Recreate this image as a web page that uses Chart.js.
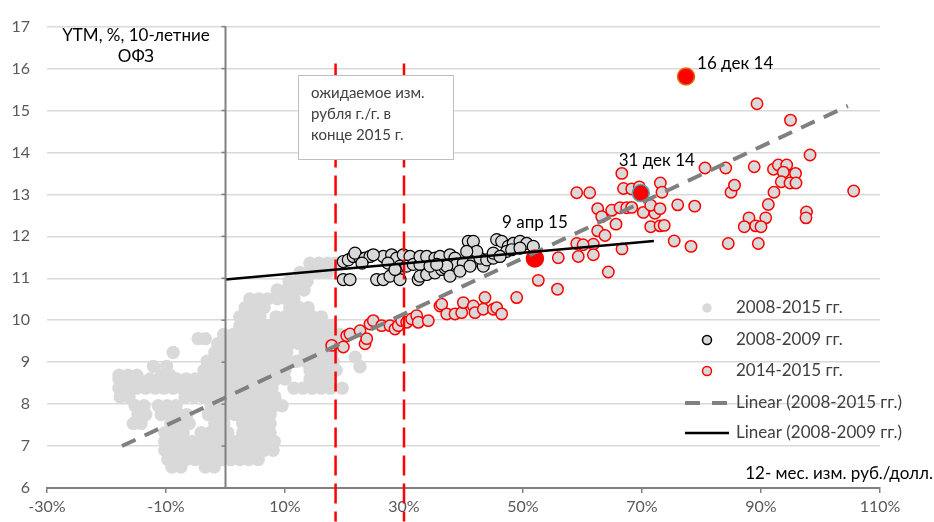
<!DOCTYPE html>
<html><head><meta charset="utf-8">
<script src="https://cdn.jsdelivr.net/npm/chart.js@4/dist/chart.umd.min.js"></script>
<style>html,body{margin:0;padding:0;background:#fff}#wrap{width:934px;height:522px;position:relative}</style>
</head><body><div id="wrap"><canvas id="c" width="934" height="522"></canvas></div>
<script>
// ---- Data ----
const xTicks = [-30, -10, 10, 30, 50, 70, 90, 110];
const yTicks = [6, 7, 8, 9, 10, 11, 12, 13, 14, 15, 16, 17];

// 2008-2015 (all observations) [x %, y %]
const allPts = [
[14.2,11.36],[15.7,11.36],[17.2,11.36],[18.4,11.36],
[12.5,11.14],[14.0,11.14],[15.5,11.14],[17.1,11.14],
[10.7,10.93],[12.2,10.93],[13.7,10.93],
[8.7,10.72],[10.2,10.72],[11.7,10.72],[13.2,10.72],
[4.1,10.51],[5.6,10.51],[7.1,10.51],[8.7,10.51],[10.2,10.51],[11.5,10.51],
[3.3,10.30],[5.0,10.30],[6.5,10.30],[10.8,10.30],[12.4,10.30],[13.9,10.30],
[2.4,10.08],[4.1,10.08],[5.8,10.08],[8.5,10.08],[10.0,10.08],[11.5,10.08],[13.0,10.08],[14.6,10.08],[16.1,10.08],
[2.4,9.87],[4.0,9.87],[5.5,9.87],[7.0,9.87],[8.5,9.87],[10.0,9.87],[11.5,9.87],[13.0,9.87],[14.6,9.87],[16.1,9.87],[17.6,9.87],
[-0.3,9.66],[1.3,9.66],[2.8,9.66],[4.3,9.66],[5.8,9.66],[7.3,9.66],[8.8,9.66],[10.3,9.66],[11.8,9.66],[13.4,9.66],[14.9,9.66],[16.4,9.66],[17.9,9.66],[19.2,9.66],
[-4.6,9.56],[-3.4,9.56],
[-1.3,9.44],[0.3,9.44],[1.8,9.44],[3.3,9.44],[4.8,9.44],[6.3,9.44],[7.8,9.44],[9.3,9.44],[10.8,9.44],[12.4,9.44],[13.9,9.44],[15.4,9.44],[16.9,9.44],[18.4,9.44],
[-8.8,9.23],[-1.8,9.23],[-0.3,9.23],[1.3,9.23],[2.8,9.23],[4.3,9.23],[5.8,9.23],[7.3,9.23],[8.8,9.23],[10.3,9.23],[13.4,9.23],[14.9,9.23],[16.4,9.23],[17.9,9.23],
[21.8,9.12],[22.6,8.89],
[-3.1,9.02],[-1.6,9.02],[0.0,9.02],[1.4,9.02],[2.9,9.02],[4.5,9.02],[6.0,9.02],[7.5,9.02],[9.0,9.02],[10.5,9.02],[12.0,9.02],[13.5,9.02],[15.0,9.02],[16.6,9.02],[18.1,9.02],
[-12.1,8.90],[-9.9,8.90],
[-3.6,8.81],[-2.1,8.81],[-0.6,8.81],[0.9,8.81],[2.4,8.81],[3.9,8.81],[5.5,8.81],[7.0,8.81],[8.5,8.81],[10.0,8.81],[14.2,8.81],[15.7,8.81],[17.2,8.81],[18.6,8.81],
[-17.9,8.69],[-16.4,8.69],[-14.9,8.69],[-10.7,8.69],[-9.3,8.69],
[-17.9,8.60],[-16.4,8.60],[-14.7,8.60],[-12.7,8.60],[-11.2,8.60],[-9.7,8.60],[-8.2,8.60],[-6.6,8.60],[-5.1,8.60],[-3.6,8.60],[-2.1,8.60],[-0.6,8.60],[0.9,8.60],[2.4,8.60],[3.9,8.60],[5.5,8.60],[7.0,8.60],[8.5,8.60],[10.0,8.60],[14.2,8.60],[15.7,8.60],[17.2,8.60],
[-17.9,8.38],[-16.4,8.38],[-14.9,8.38],[-13.4,8.38],[-11.8,8.38],[-10.3,8.38],[-8.8,8.38],[-7.3,8.38],[-5.8,8.38],[-4.3,8.38],[-2.8,8.38],[-1.3,8.38],[0.3,8.38],[1.8,8.38],[3.3,8.38],[4.8,8.38],[6.3,8.38],[7.8,8.38],[11.5,8.38],[13.0,8.38],[14.6,8.38],[16.1,8.38],[17.6,8.38],[19.6,8.38],
[-17.7,8.17],[-16.2,8.17],[-6.8,8.17],[-5.3,8.17],[-3.8,8.17],[-2.3,8.17],[-0.8,8.17],[0.8,8.17],[2.3,8.17],[3.8,8.17],[5.3,8.17],[6.8,8.17],[8.3,8.17],
[-15.2,7.96],[-13.7,7.96],[-11.3,7.96],[-9.8,7.96],[-8.3,7.96],[-2.4,7.96],[-0.9,7.96],[0.6,7.96],[2.1,7.96],[3.6,7.96],[5.1,7.96],[6.6,7.96],[8.2,7.96],[9.5,7.96],
[-14.7,7.75],[-13.4,7.75],[-10.8,7.75],[-9.3,7.75],[-7.8,7.75],[-6.5,7.75],[-2.9,7.75],[-1.4,7.75],[0.1,7.75],[1.6,7.75],[3.1,7.75],[4.6,7.75],[6.2,7.75],[7.5,7.75],
[-15.5,7.54],[-14.2,7.54],[-9.2,7.54],[-7.6,7.54],[-6.1,7.54],[-1.8,7.54],[-0.3,7.54],[2.9,7.54],[4.5,7.54],[6.0,7.54],[7.5,7.54],
[-10.2,7.32],[-8.7,7.32],[-7.1,7.32],[-4.1,7.32],[-2.6,7.32],[-1.1,7.32],[0.4,7.32],[2.9,7.32],[4.5,7.32],[6.0,7.32],[7.5,7.32],
[-10.2,7.11],[-8.7,7.11],[-7.1,7.11],[-5.6,7.11],[-4.1,7.11],[-2.6,7.11],[-1.1,7.11],[0.4,7.11],[1.9,7.11],[3.4,7.11],[5.0,7.11],[6.5,7.11],[8.2,7.11],
[-10.2,6.90],[-8.7,6.90],[-7.1,6.90],[-5.6,6.90],[-4.1,6.90],[-2.6,6.90],[-1.1,6.90],[0.4,6.90],[1.9,6.90],[3.4,6.90],[5.0,6.90],[6.5,6.90],[8.0,6.90],
[-9.7,6.68],[-8.2,6.68],[-6.6,6.68],[-5.1,6.68],[-3.6,6.68],[-2.1,6.68],[-0.6,6.68],[0.9,6.68],[2.4,6.68],[3.9,6.68],[5.5,6.68],
[-9.0,6.50],[-7.5,6.50],[-3.4,6.50],[-1.9,6.50]
];

// 2008-2009
const y0809X = [19.80,20.92,19.80,20.64,21.48,22.61,21.76,25.41,26.52,27.65,29.33,26.52,27.93,28.77,29.88,31.01,29.33,30.45,31.56,32.69,32.40,32.69,33.82,35.21,36.34,36.89,32.69,33.82,35.21,36.05,37.73,38.57,38.86,39.97,41.65,43.33,42.77,43.90,45.01,40.81,41.65,42.22,40.54,45.58,46.42,47.53,48.37,49.50,50.62,51.73,47.26,48.10,49.50,45.01,46.13,37.18,34.37,35.50,23.45,24.29,24.84,22.94,27.31,37.73,39.40,41.10,28.49];
const y0809Y = [10.97,10.97,11.40,11.44,11.52,11.48,11.60,10.97,10.97,11.05,10.97,11.52,11.56,11.48,11.56,11.52,11.29,11.29,11.33,11.33,10.97,11.05,11.09,11.13,11.21,11.25,11.52,11.52,11.48,11.52,11.56,11.48,11.33,11.36,11.40,11.29,11.48,11.44,11.48,11.88,11.88,11.64,11.64,11.92,11.88,11.76,11.83,11.88,11.83,11.76,11.64,11.68,11.72,11.60,11.52,11.29,11.29,11.33,11.48,11.52,11.56,11.36,11.36,11.05,11.17,11.29,11.21];

// 2014-2015
const y1415X = [17.85,19.80,20.37,20.92,22.61,23.45,23.73,24.29,24.84,26.25,27.65,28.49,29.04,29.61,30.45,31.29,32.13,32.40,34.08,36.05,36.34,37.18,38.57,39.70,39.97,41.65,41.93,43.33,43.61,45.01,45.58,46.42,48.94,52.57,55.80,55.93,64.34,59.03,61.82,59.29,61.82,62.55,63.78,66.64,75.41,78.24,84.50,89.55,59.03,61.21,66.61,66.89,68.27,69.55,73.08,73.36,62.55,63.23,64.91,66.30,65.63,67.43,68.27,70.22,72.18,71.46,73.03,71.46,73.03,73.73,76.00,78.86,80.59,84.07,88.86,92.10,92.91,94.32,93.75,95.80,93.41,94.87,95.88,98.24,94.96,89.33,105.58,84.96,85.55,92.18,91.23,87.98,90.79,87.19,89.11,90.00,97.65,97.56,60.1];
const y1415Y = [9.40,9.36,9.63,9.67,9.75,9.44,9.56,9.91,9.99,9.87,9.87,9.79,9.87,9.99,9.95,10.03,10.11,9.95,9.99,10.34,10.38,10.15,10.15,10.18,10.42,10.34,10.18,10.26,10.54,10.26,10.30,10.15,10.54,10.95,10.74,11.49,11.15,11.83,11.81,11.52,11.56,12.13,12.02,11.70,11.89,11.76,11.83,11.83,13.04,13.04,13.50,13.14,13.13,13.18,13.27,13.05,12.66,12.47,12.62,12.68,12.29,12.68,12.69,12.57,12.55,12.74,12.66,12.23,12.25,12.26,12.75,12.72,13.63,13.63,13.66,13.60,13.70,13.70,13.53,13.50,13.30,13.27,13.27,13.94,14.77,15.16,13.08,13.05,13.22,13.05,12.76,12.44,12.44,12.23,12.25,12.23,12.58,12.44,11.80];

// highlighted dates
const specialX = [77.4, 69.8, 52.0];
const specialY = [15.81, 13.03, 11.47];
const specialLabels = ['16 дек 14', '31 дек 14', '9 апр 15'];
const specialBorders = ['#e36c09', '#4bacc6', '#ff0000'];

// trend lines (end points)
const trendAllX = [-17.4, 104.6];
const trendAllY = [7.00, 15.11];
const trend0809X = [0, 72];
const trend0809Y = [10.97, 11.89];

// expected ruble change at end of 2015 (vertical markers)
const expectedX = [18.5, 30.0];
const expectedYRange = [16.12, 5.2];

const seriesNames = ['2008-2015 гг.', '2008-2009 гг.', '2014-2015 гг.', 'Linear (2008-2015 гг.)', 'Linear (2008-2009 гг.)'];
const boxLines = ['ожидаемое изм.', 'рубля г./г. в', 'конце 2015 г.'];
const yTitle = ['YTM, %, 10-летние', 'ОФЗ'];
const xTitle = '12- мес. изм. руб./долл.';

// ---- build ----
const pts = (xs, ys) => xs.map((v, i) => ({x: v, y: ys[i]}));
const FONT = 'Lato, "Noto Sans", sans-serif';

const datasets = [
  {label: seriesNames[4], data: pts(trend0809X, trend0809Y), showLine: true, borderColor: '#000', borderWidth: 2.5, pointRadius: 0, order: 0},
  {label: seriesNames[3], data: pts(trendAllX, trendAllY), showLine: true, borderColor: '#808080', borderWidth: 4, borderDash: [15, 10], pointRadius: 0, order: 0},
  {label: 'special', data: pts(specialX, specialY), pointRadius: 8.5, backgroundColor: '#ff0000', borderColor: specialBorders, borderWidth: 1.5, order: 1},
  ...expectedX.map(v => ({label: 'exp', data: pts([v, v], expectedYRange), showLine: true, borderColor: '#ff0000', borderWidth: 2.5, borderDash: [20, 8], pointRadius: 0, clip: false, order: 2})),
  {label: seriesNames[2], data: pts(y1415X, y1415Y), pointRadius: 5.7, backgroundColor: '#d9d9d9', borderColor: '#ff0000', borderWidth: 1.5, order: 3},
  {label: seriesNames[1], data: pts(y0809X, y0809Y), pointRadius: 6, backgroundColor: '#d9d9d9', borderColor: '#000', borderWidth: 1.2, order: 4},
  {label: seriesNames[0], data: allPts.map(p => ({x: p[0], y: p[1]})), pointRadius: 6.7, backgroundColor: '#d9d9d9', borderWidth: 0, order: 5}
];

const decor = {
  id: 'decor',
  afterDatasetsDraw(chart) {
    const {ctx, scales: {x, y}, chartArea: ca} = chart;
    ctx.save();
    const x0 = x.getPixelForValue(0);
    ctx.strokeStyle = '#808080';
    ctx.lineWidth = 2;
    ctx.beginPath(); ctx.moveTo(x0, ca.top); ctx.lineTo(x0, ca.bottom); ctx.stroke();
    ctx.lineWidth = 1.5;
    yTicks.forEach(v => {
      const py = y.getPixelForValue(v);
      ctx.beginPath(); ctx.moveTo(x0 - 4, py); ctx.lineTo(x0, py); ctx.stroke();
    });
    // annotation box
    ctx.fillStyle = '#fff';
    ctx.strokeStyle = '#bfbfbf';
    ctx.lineWidth = 1;
    ctx.fillRect(298, 75, 156, 85);
    ctx.strokeRect(298.5, 75.5, 155, 84);
    ctx.fillStyle = '#404040';
    ctx.font = '15px ' + FONT;
    ctx.textBaseline = 'middle';
    ctx.textAlign = 'left';
    boxLines.forEach((t, i) => ctx.fillText(t, 311, 93 + i * 21));
    // special labels
    const meta = chart.getDatasetMeta(2);
    ctx.fillStyle = '#000';
    ctx.font = '17px ' + FONT;
    const offs = [[11, -13, 'left'], [16, -33, 'center'], [0, -36, 'center']];
    meta.data.forEach((p, i) => {
      ctx.textAlign = offs[i][2];
      ctx.fillText(specialLabels[i], p.x + offs[i][0], p.y + offs[i][1]);
    });
    ctx.restore();
  },
  afterDraw(chart) {
    const {ctx} = chart;
    ctx.save();
    ctx.fillStyle = '#000';
    ctx.font = '17px ' + FONT;
    ctx.textBaseline = 'middle';
    ctx.textAlign = 'center';
    ctx.fillText(yTitle[0], 136, 36);
    ctx.fillText(yTitle[1], 136, 57);
    ctx.textAlign = 'right';
    ctx.fillText(xTitle, 933, 474);
    // legend
    const lx = 707, tx = 736, rows = [308, 340, 371, 403, 433];
    ctx.textAlign = 'left';
    const order = [7, 6, 5, 1, 0];
    order.forEach((di, i) => {
      const d = chart.data.datasets[di];
      const ry = rows[i];
      if (i < 3) {
        ctx.beginPath();
        ctx.arc(lx, ry, i === 0 ? 4.7 : 4.5, 0, Math.PI * 2);
        ctx.fillStyle = d.backgroundColor;
        ctx.fill();
        if (d.borderWidth) { ctx.lineWidth = 1.5; ctx.strokeStyle = d.borderColor; ctx.stroke(); }
      } else {
        ctx.beginPath();
        ctx.strokeStyle = d.borderColor;
        ctx.lineWidth = d.borderWidth;
        ctx.setLineDash(d.borderDash ? [15, 12] : []);
        ctx.moveTo(685, ry); ctx.lineTo(729, ry); ctx.stroke();
        ctx.setLineDash([]);
      }
      ctx.fillStyle = '#404040';
      ctx.fillText(d.label, tx, ry);
    });
    ctx.restore();
  }
};

new Chart(document.getElementById('c'), {
  type: 'scatter',
  data: {datasets},
  options: {
    responsive: false,
    animation: false,
    events: [],
    layout: {padding: {left: 0, right: 54, top: 22, bottom: 0}},
    plugins: {legend: {display: false}, tooltip: {enabled: false}},
    scales: {
      x: {
        type: 'linear', min: -30, max: 110,
        afterBuildTicks: s => { s.ticks = xTicks.map(v => ({value: v})); },
        afterFit: s => { s.height = 34; },
        grid: {drawOnChartArea: false, drawTicks: true, tickLength: 5, color: '#808080', lineWidth: 1.5},
        border: {display: true, color: '#808080', width: 2},
        ticks: {callback: v => v + '%', color: '#595959', font: {family: FONT, size: 16}, padding: 4, maxRotation: 0, autoSkip: false}
      },
      y: {
        type: 'linear', min: 6, max: 17,
        afterBuildTicks: s => { s.ticks = yTicks.map(v => ({value: v})); },
        afterFit: s => { s.width = 47; },
        grid: {color: '#d9d9d9', lineWidth: 1.5, drawTicks: false},
        border: {display: false},
        ticks: {color: '#595959', font: {family: FONT, size: 16}, padding: 17}
      }
    }
  },
  plugins: [decor]
});
</script>
</body></html>
